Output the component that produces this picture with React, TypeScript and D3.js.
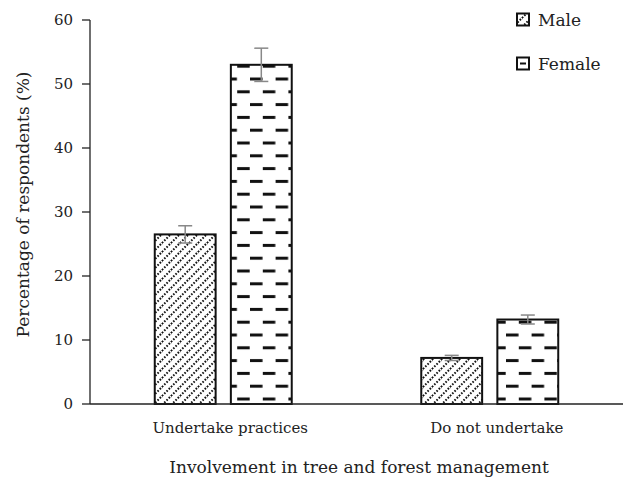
import React from "react";
import * as d3 from "d3";

const categories = ["Undertake practices", "Do not undertake"];
const seriesNames = ["Male", "Female"];
const maleValues = [26.5, 7.2];
const femaleValues = [53.0, 13.2];
const maleErrors = [1.35, 0.4];
const femaleErrors = [2.6, 0.7];
const yTicks = [0, 10, 20, 30, 40, 50, 60];

const W = 623;
const H = 480;
const M = { left: 90, right: 0, top: 20, bottom: 76 };
const FONT = "'DejaVu Serif', serif";

export default function App() {
  const x0 = d3.scaleBand<string>().domain(categories).range([M.left, W - M.right]).paddingInner(0.486).paddingOuter(0.243);
  const x1 = d3.scaleBand<string>().domain(seriesNames).range([0, x0.bandwidth()]).paddingInner(0.2);
  const y = d3.scaleLinear().domain([0, 60]).range([H - M.bottom, M.top]);
  const series = [
    { name: "Male", values: maleValues, errors: maleErrors, fill: "url(#patMale)" },
    { name: "Female", values: femaleValues, errors: femaleErrors, fill: "url(#patFemale)" },
  ];
  const y0 = y(0);
  return (
    <svg width={W} height={H} style={{ position: "absolute", left: 0, top: 0, fontFamily: FONT }}>
      <defs>
        <pattern id="patMale" patternUnits="userSpaceOnUse" width={9} height={9}>
          <rect width={9} height={9} fill="white" />
          <line x1={0} y1={9} x2={9} y2={0} stroke="#111" strokeWidth={2} strokeDasharray="1.6 1.6" />
          <line x1={-1} y1={1} x2={1} y2={-1} stroke="#111" strokeWidth={2} strokeDasharray="1.6 1.6" />
          <line x1={8} y1={10} x2={10} y2={8} stroke="#111" strokeWidth={2} strokeDasharray="1.6 1.6" />
        </pattern>
        <pattern id="patFemale" patternUnits="userSpaceOnUse" width={25.6} height={25.6} x={19.6} y={y0 + 1.4}>
          <rect width={25.6} height={25.6} fill="white" />
          <rect x={0} y={4.9} width={12.5} height={3} fill="#111" />
          <rect x={12.8} y={17.7} width={12.5} height={3} fill="#111" />
        </pattern>
      </defs>
      {/* y axis */}
      <line x1={M.left} x2={M.left} y1={M.top} y2={y0} stroke="#222" strokeWidth={1.3} />
      {yTicks.map((t) => (
        <g key={t}>
          <line x1={M.left - 8} x2={M.left} y1={y(t)} y2={y(t)} stroke="#222" strokeWidth={1.3} />
          <text x={M.left - 17} y={y(t)} dy="0.35em" textAnchor="end" fontSize={15} fill="#222">
            {t}
          </text>
        </g>
      ))}
      {/* bars */}
      {categories.map((c, i) => (
        <g key={c}>
          {series.map((s) => {
            const bx = (x0(c) as number) + (x1(s.name) as number);
            const bw = x1.bandwidth();
            const v = s.values[i];
            const cx = bx + bw / 2;
            return (
              <g key={s.name}>
                <rect x={bx} y={y(v)} width={bw} height={y0 - y(v)} fill={s.fill} stroke="#111" strokeWidth={2} />
                <line x1={cx} x2={cx} y1={y(v + s.errors[i])} y2={y(v - s.errors[i])} stroke="#888" strokeWidth={1.5} />
                <line x1={cx - 7} x2={cx + 7} y1={y(v + s.errors[i])} y2={y(v + s.errors[i])} stroke="#888" strokeWidth={1.5} />
                <line x1={cx - 7} x2={cx + 7} y1={y(v - s.errors[i])} y2={y(v - s.errors[i])} stroke="#888" strokeWidth={1.5} />
              </g>
            );
          })}
          <text x={(x0(c) as number) + x0.bandwidth() / 2 + 7} y={y0 + 29} textAnchor="middle" fontSize={15} fill="#222">
            {c}
          </text>
        </g>
      ))}
      {/* x axis */}
      <line x1={M.left} x2={W} y1={y0} y2={y0} stroke="#222" strokeWidth={1.3} />
      <text x={359} y={473} textAnchor="middle" fontSize={17} fill="#222">
        Involvement in tree and forest management
      </text>
      <text transform={`translate(29, 204.5) rotate(-90)`} textAnchor="middle" fontSize={17} fill="#222">
        Percentage of respondents (%)
      </text>
      {/* legend */}
      {series.map((s, i) => (
        <g key={s.name}>
          <rect x={517} y={13.5 + i * 44} width={12} height={12} fill={s.name === "Male" ? "url(#patMale)" : "white"} stroke="#111" strokeWidth={2} />
          {s.name === "Female" && <rect x={520} y={18.5 + i * 44} width={6} height={2} fill="#111" />}
          <text x={538} y={26 + i * 44} fontSize={17} fill="#222">
            {s.name}
          </text>
        </g>
      ))}
    </svg>
  );
}
